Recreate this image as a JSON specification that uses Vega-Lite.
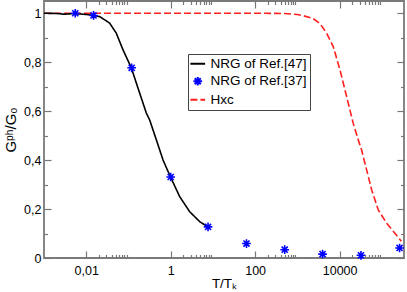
{
  "$schema": "https://vega.github.io/schema/vega-lite/v6.json",
  "width": 360,
  "height": 257,
  "autosize": {"type": "none"},
  "padding": {"left": 44, "top": 1, "right": 3, "bottom": 34},
  "config": {
    "font": "Liberation Sans",
    "view": {"stroke": "#7a7a7a", "strokeWidth": 1.8},
    "axis": {"domain": false, "grid": false, "tickColor": "#777", "tickWidth": 1.2, "labelColor": "black", "labelFontSize": 12.5, "titleColor": "black", "titleFontWeight": "normal", "titleFontSize": 13.5, "labelOverlap": false, "labelFlush": false}
  },
  "data": {
    "values": [
      {"series": "NRG of Ref.[47]", "x": 0.001, "y": 1.0},
      {"series": "NRG of Ref.[47]", "x": 0.002, "y": 0.999},
      {"series": "NRG of Ref.[47]", "x": 0.003, "y": 0.996},
      {"series": "NRG of Ref.[47]", "x": 0.0045, "y": 0.998},
      {"series": "NRG of Ref.[47]", "x": 0.007, "y": 0.997},
      {"series": "NRG of Ref.[47]", "x": 0.01, "y": 0.995},
      {"series": "NRG of Ref.[47]", "x": 0.015, "y": 0.991},
      {"series": "NRG of Ref.[47]", "x": 0.021, "y": 0.986},
      {"series": "NRG of Ref.[47]", "x": 0.0357, "y": 0.96},
      {"series": "NRG of Ref.[47]", "x": 0.0513, "y": 0.919},
      {"series": "NRG of Ref.[47]", "x": 0.0741, "y": 0.851},
      {"series": "NRG of Ref.[47]", "x": 0.1175, "y": 0.776},
      {"series": "NRG of Ref.[47]", "x": 0.184, "y": 0.674},
      {"series": "NRG of Ref.[47]", "x": 0.265, "y": 0.592},
      {"series": "NRG of Ref.[47]", "x": 0.318, "y": 0.564},
      {"series": "NRG of Ref.[47]", "x": 0.38, "y": 0.524},
      {"series": "NRG of Ref.[47]", "x": 0.457, "y": 0.483},
      {"series": "NRG of Ref.[47]", "x": 0.66, "y": 0.4},
      {"series": "NRG of Ref.[47]", "x": 0.955, "y": 0.337},
      {"series": "NRG of Ref.[47]", "x": 1.63, "y": 0.251},
      {"series": "NRG of Ref.[47]", "x": 2.82, "y": 0.189},
      {"series": "NRG of Ref.[47]", "x": 4.9, "y": 0.148},
      {"series": "NRG of Ref.[47]", "x": 7.67, "y": 0.127},
      {"series": "NRG of Ref.[37]", "x": 0.0055, "y": 1.0},
      {"series": "NRG of Ref.[37]", "x": 0.0149, "y": 0.991},
      {"series": "NRG of Ref.[37]", "x": 0.119, "y": 0.777},
      {"series": "NRG of Ref.[37]", "x": 1, "y": 0.331},
      {"series": "NRG of Ref.[37]", "x": 7.67, "y": 0.127},
      {"series": "NRG of Ref.[37]", "x": 62.4, "y": 0.059},
      {"series": "NRG of Ref.[37]", "x": 501, "y": 0.034},
      {"series": "NRG of Ref.[37]", "x": 3950, "y": 0.016},
      {"series": "NRG of Ref.[37]", "x": 32000, "y": 0.011},
      {"series": "NRG of Ref.[37]", "x": 263000, "y": 0.041},
      {"series": "Hxc", "x": 0.001, "y": 1.0},
      {"series": "Hxc", "x": 10, "y": 1.0},
      {"series": "Hxc", "x": 100, "y": 1.0},
      {"series": "Hxc", "x": 500, "y": 0.999},
      {"series": "Hxc", "x": 1000, "y": 0.995},
      {"series": "Hxc", "x": 1371, "y": 0.99},
      {"series": "Hxc", "x": 2366, "y": 0.978},
      {"series": "Hxc", "x": 3412, "y": 0.958},
      {"series": "Hxc", "x": 4920, "y": 0.919},
      {"series": "Hxc", "x": 7063, "y": 0.864},
      {"series": "Hxc", "x": 10186, "y": 0.769},
      {"series": "Hxc", "x": 14655, "y": 0.66},
      {"series": "Hxc", "x": 21040, "y": 0.55},
      {"series": "Hxc", "x": 28000, "y": 0.48},
      {"series": "Hxc", "x": 33100, "y": 0.442},
      {"series": "Hxc", "x": 43650, "y": 0.36},
      {"series": "Hxc", "x": 57540, "y": 0.278},
      {"series": "Hxc", "x": 82400, "y": 0.196},
      {"series": "Hxc", "x": 130300, "y": 0.142},
      {"series": "Hxc", "x": 204000, "y": 0.101},
      {"series": "Hxc", "x": 290000, "y": 0.068}
    ]
  },
  "layer": [
    {
      "transform": [{"filter": "datum.series == 'Hxc'"}],
      "mark": {"type": "line", "strokeWidth": 1.6, "clip": true},
      "encoding": {
        "x": {"field": "x", "type": "quantitative", "scale": {"type": "log", "domain": [0.001, 335000], "nice": false},
          "axis": {"orient": "bottom", "title": "T/Tₖ", "titlePadding": -4,
            "values": [0.01,0.02,0.03,0.04,0.05,0.06,0.07,0.08,0.09,1,2,3,4,5,6,7,8,9,100,200,300,400,500,600,700,800,900,10000,20000,30000,40000,50000,60000,70000,80000,90000],
            "labelExpr": "indexof([0.01,1,100,10000], datum.value) >= 0 ? replace(format(datum.value, '~g'), '.', ',') : ''",
            "tickSize": {"condition": {"test": "indexof([0.01,1,100,10000], datum.value) >= 0", "value": -7}, "value": -3.5},
            "labelPadding": 13}},
        "y": {"field": "y", "type": "quantitative", "scale": {"domain": [0, 1.05], "nice": false, "zero": false},
          "axis": {"orient": "left", "title": "Gᵖʰ/G₀", "titlePadding": 5, "titleFontSize": 15,
            "values": [0,0.1,0.2,0.3,0.4,0.5,0.6,0.7,0.8,0.9,1],
            "labelExpr": "indexof([0,0.2,0.4,0.6,0.8,1], datum.value) >= 0 ? replace(format(datum.value, '~g'), '.', ',') : ''",
            "tickSize": {"condition": {"test": "indexof([0,0.2,0.4,0.6,0.8,1], datum.value) >= 0", "value": -7}, "value": -3.5},
            "labelPadding": 10}},
        "color": {"field": "series", "type": "nominal", "scale": {"domain": ["NRG of Ref.[47]", "NRG of Ref.[37]", "Hxc"], "range": ["black", "blue", "#ff2020"]},
          "legend": {"title": null, "orient": "none", "legendX": 144, "legendY": 53, "strokeColor": "#444", "fillColor": "white", "padding": 3, "labelFontSize": 13.5, "labelOffset": 6, "rowPadding": 1.5, "symbolStrokeWidth": 2, "symbolSize": 75, "symbolFillColor": "transparent"}},
        "strokeDash": {"field": "series", "type": "nominal", "scale": {"domain": ["NRG of Ref.[47]", "NRG of Ref.[37]", "Hxc"], "range": [[1, 0], [1, 0], [7, 3]]}}
      }
    },
    {
      "transform": [{"filter": "datum.series == 'NRG of Ref.[47]'"}],
      "mark": {"type": "line", "strokeWidth": 1.6},
      "encoding": {
        "x": {"field": "x", "type": "quantitative", "scale": {"type": "log", "domain": [0.001, 335000], "nice": false},
          "axis": {"orient": "top", "title": null, "labels": false,
            "values": [0.01,0.02,0.03,0.04,0.05,0.06,0.07,0.08,0.09,1,2,3,4,5,6,7,8,9,100,200,300,400,500,600,700,800,900,10000,20000,30000,40000,50000,60000,70000,80000,90000],
            "tickSize": {"condition": {"test": "indexof([0.01,1,100,10000], datum.value) >= 0", "value": -7}, "value": -3.5}}},
        "y": {"field": "y", "type": "quantitative", "scale": {"domain": [0, 1.05], "nice": false, "zero": false},
          "axis": {"orient": "right", "title": null, "labels": false,
            "values": [0,0.1,0.2,0.3,0.4,0.5,0.6,0.7,0.8,0.9,1],
            "tickSize": {"condition": {"test": "indexof([0,0.2,0.4,0.6,0.8,1], datum.value) >= 0", "value": -7}, "value": -3.5}}},
        "color": {"field": "series", "type": "nominal"},
        "strokeDash": {"field": "series", "type": "nominal"}
      }
    },
    {
      "transform": [{"filter": "datum.series == 'NRG of Ref.[37]'"}],
      "mark": {"type": "point", "filled": false, "strokeWidth": 1.6, "size": 75, "opacity": 1},
      "encoding": {
        "x": {"field": "x", "type": "quantitative", "axis": null},
        "y": {"field": "y", "type": "quantitative", "axis": null},
        "color": {"field": "series", "type": "nominal"},
        "shape": {"field": "series", "type": "nominal", "scale": {"domain": ["NRG of Ref.[47]", "NRG of Ref.[37]", "Hxc"], "range": ["M-1.7,0L1.7,0", "M0,-1L0,1M-1,0L1,0M-0.7,-0.7L0.7,0.7M-0.7,0.7L0.7,-0.7", "M-1.7,0L1.7,0"]}}
      }
    }
  ],
  "resolve": {"axis": {"x": "independent", "y": "independent"}}
}
